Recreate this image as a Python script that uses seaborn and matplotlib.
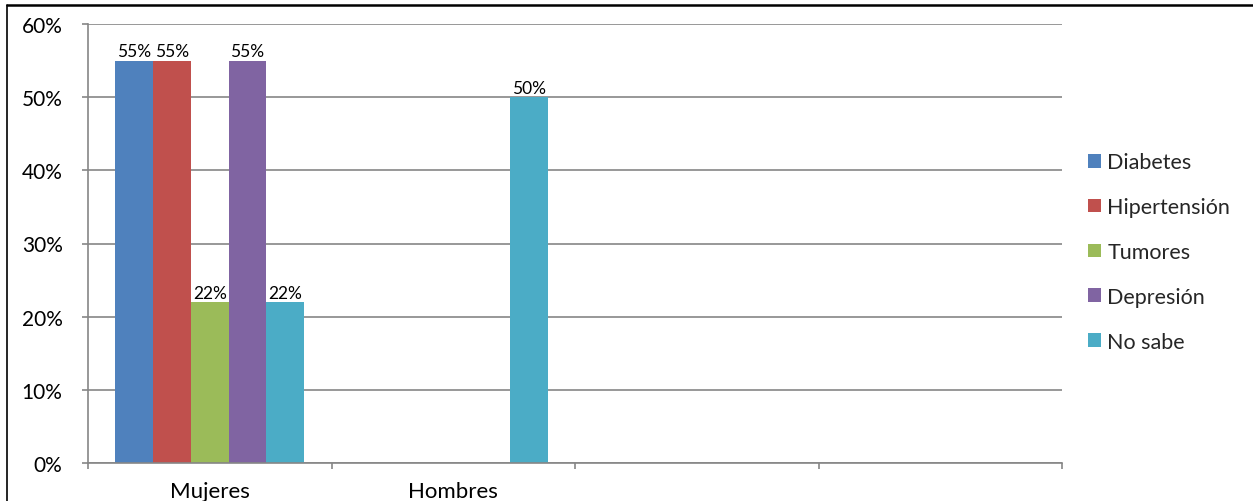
import numpy as np
import pandas as pd
import matplotlib
matplotlib.use("Agg")
import matplotlib.pyplot as plt
from matplotlib.lines import Line2D
import seaborn as sns

# Data
grupos = ["Mujeres", "Hombres"]
causas = ["Diabetes", "Hipertensión", "Tumores", "Depresión", "No sabe"]
mujeres = [0.55, 0.55, 0.22, 0.55, 0.22]
hombres = [np.nan, np.nan, np.nan, np.nan, 0.50]
colores = ["#4F81BD", "#C0504D", "#9BBB59", "#8064A2", "#4BACC6"]

rows = []
for grupo, valores in zip(grupos, [mujeres, hombres]):
    for causa, v in zip(causas, valores):
        if not np.isnan(v):
            rows.append({"grupo": grupo, "causa": causa, "porcentaje": v})
df = pd.DataFrame(rows)

sns.set_theme(style="white")
plt.rcParams["font.family"] = ["Lato", "DejaVu Sans"]

fig = plt.figure(figsize=(12.53, 5.02), dpi=100)
ax = fig.add_axes([88 / 1253, 1 - 464 / 502, (1062 - 88) / 1253, (464 - 25) / 502])

sns.barplot(data=df, x="grupo", y="porcentaje", hue="causa",
            order=grupos, hue_order=causas, palette=colores,
            width=0.775, saturation=1, errorbar=None, ax=ax,
            linewidth=0, legend=True)

for cont in ax.containers:
    ax.bar_label(cont, fmt=lambda v: f"{v:.0%}", padding=1, fontsize=12.5,
                 color="#000000")

grid_color = "#868686"
ax.set_ylim(0, 0.60)
ax.set_yticks(np.arange(0, 0.61, 0.10))
ax.set_yticklabels([f"{int(round(t * 100))}%" for t in np.arange(0, 0.61, 0.10)])
ax.set_xlim(-0.5, 3.5)
ax.set_xticks([0, 1])
ax.set_xticklabels(grupos)
ax.set_xticks(np.arange(-0.5, 3.6, 1.0), minor=True)

ax.yaxis.grid(True, color=grid_color, linewidth=1.2)
ax.set_axisbelow(True)
ax.set_xlabel("")
ax.set_ylabel("")

for side in ["top", "right"]:
    ax.spines[side].set_visible(False)
for side in ["left", "bottom"]:
    ax.spines[side].set_color(grid_color)
    ax.spines[side].set_linewidth(1.2)

ax.tick_params(axis="y", which="major", left=True, length=4.3, width=1.2,
               color=grid_color, pad=14, labelsize=15, labelcolor="#000000")
ax.tick_params(axis="x", which="major", bottom=False, length=0, pad=13,
               labelsize=16, labelcolor="#000000")
ax.tick_params(axis="x", which="minor", bottom=True, length=4.3, width=1.2,
               color=grid_color)

handles, labels = ax.get_legend_handles_labels()
ax.legend_.remove()
fig.legend(handles, labels, loc="center left",
           bbox_to_anchor=(1088 / 1253, 1 - 253 / 502), frameon=False,
           fontsize=15.5, handlelength=0.6, handleheight=0.6,
           handletextpad=0.3, labelspacing=1.15, borderaxespad=0,
           borderpad=0)

# Outer frame lines
fig.add_artist(Line2D([7 / 1253, 1], [1 - 6 / 502, 1 - 6 / 502],
                      transform=fig.transFigure, color="black", linewidth=1.8))
fig.add_artist(Line2D([7 / 1253, 7 / 1253], [0, 1 - 6 / 502],
                      transform=fig.transFigure, color="black", linewidth=1.2))

fig.savefig("out.png", dpi=100)
